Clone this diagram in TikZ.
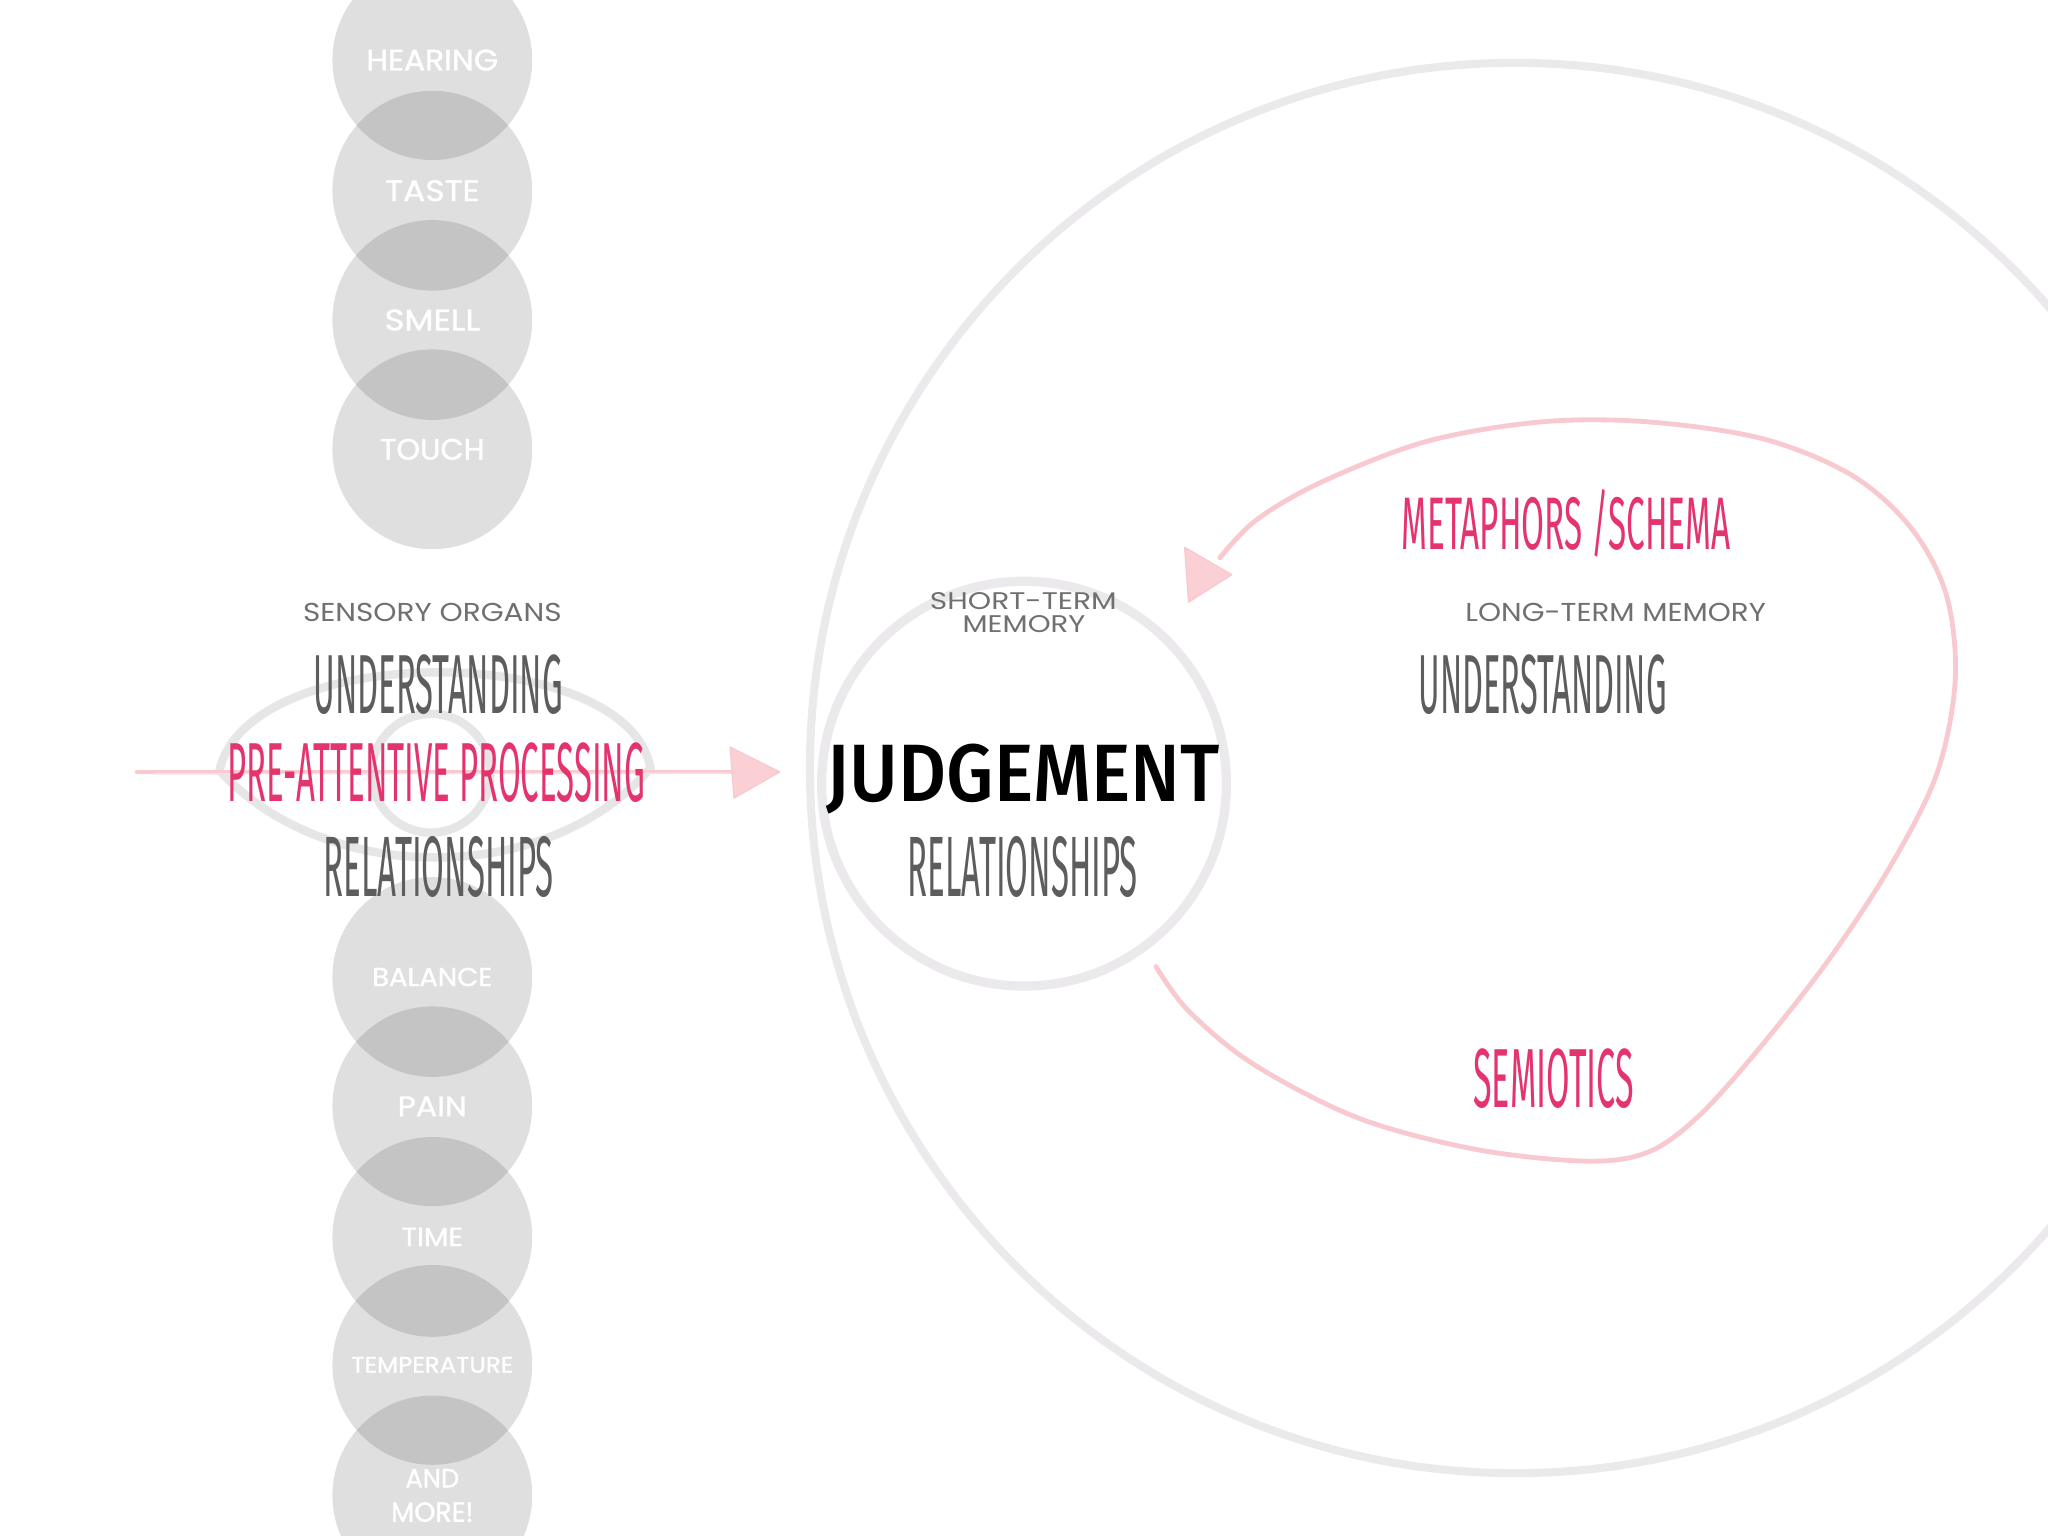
\documentclass[tikz,border=0pt]{standalone}
\usepackage{fontspec}
\usepackage{graphicx}
\newfontfamily\condf{Fira Sans}
\newfontfamily\judgf{Fira Sans}[UprightFont={* Medium}]
\newfontfamily\popf{Poppins}
\newfontfamily\popbf{Poppins}[FakeBold=1.2]
\newdimen\upx \upx=0.02cm
\newcommand\fitwh[3]{\resizebox{#1\upx}{#2\upx}{#3}}
\definecolor{pinktext}{RGB}{228,52,110}
\definecolor{darktext}{RGB}{93,93,93}
\definecolor{labelgray}{RGB}{112,112,112}
\definecolor{ringgray}{RGB}{235,233,236}
\definecolor{eyegray}{RGB}{230,230,230}
\definecolor{pinkline}{RGB}{248,202,208}
\definecolor{pinkhead}{RGB}{250,208,213}
\begin{document}
\begin{tikzpicture}[x=0.02cm,y=-0.02cm,
  sense/.style={circle, minimum size=3.06cm, inner sep=0, fill=black!80, fill opacity=0.155, text opacity=1, text=white, font=\popbf, align=center},
  cond/.style={inner sep=0, anchor=base, font=\condf},
  lbl/.style={inner sep=0, anchor=base, text=labelgray, font=\popf},
  ring/.style={draw=ringgray, line width=3.5pt},
  eyeline/.style={draw=eyegray, line width=3.7pt},
  pinkstroke/.style={draw=pinkline, line width=2.1pt, line cap=round, line join=round},
  brush/.style={draw=pinkline!60!white, line width=0.6pt, line cap=round},
  head/.style={fill=pinkhead, draw=pinkline, line width=0.6pt, line join=round}]
\useasboundingbox (0,0) rectangle (1568,1176);
\fill[white] (0,0) rectangle (1568,1176);

% memory rings
\node[circle, ring, minimum size=21.6cm, inner sep=0] (ltm) at (1160,588) {};
\node[circle, ring, minimum size=6.2cm, inner sep=0, line width=4pt] (stm) at (784,600) {};

% eye
\coordinate (eyeL) at (168,590);
\coordinate (eyeR) at (498,588);
\draw[eyeline] (eyeL) .. controls (190,490) and (480,490) .. (eyeR) .. controls (420,679) and (250,679) .. (eyeL);
\node[circle, draw=eyegray, line width=3.7pt, minimum size=1.82cm, inner sep=0] (iris) at (330,592) {};

% sensory circles
\node[sense] (hearing) at (331,46) {\fitwh{101}{16}{HEARING}};
\node[sense] (taste) at (331,146) {\fitwh{72}{16}{TASTE}};
\node[sense] (smell) at (331,245) {\fitwh{73}{16}{SMELL}};
\node[sense] (touch) at (331,344) {\fitwh{80}{16}{TOUCH}};
\node[sense] (balance) at (331,748) {\fitwh{92}{14}{BALANCE}};
\node[sense] (pain) at (331,847) {\fitwh{53}{15}{PAIN}};
\node[sense] (time) at (331,947) {\fitwh{47}{14}{TIME}};
\node[sense] (temp) at (331,1045) {\fitwh{124}{12}{TEMPERATURE}};
\node[sense] (more) at (331,1145) {\fitwh{41}{14}{AND}\\[3pt]\fitwh{63}{15}{MORE!}};

% horizontal arrow
\coordinate (hstart) at (105,591);
\coordinate (hend) at (566,591);
\draw[pinkstroke] (hstart) -- (hend);
\draw[brush] (118,592.5) -- (560,592);
\filldraw[head] (559,572) -- (597,591) -- (562,611) -- cycle;

% loop arrow
\coordinate (lstart) at (885,740);
\coordinate (lend) at (934,427);
\draw[pinkstroke] plot[smooth, tension=0.55] coordinates {(lstart) (910,774) (960,815) (1040,856) (1130,880) (1215,889) (1262,882) (1300,855) (1345,805) (1400,735) (1448,662) (1483,592) (1497,520) (1490,455) (1463,404) (1418,364) (1350,336) (1262,323) (1180,323) (1092,338) (1012,369) (962,398) (lend)};
\filldraw[head] (907,419) -- (943,440) -- (910,461) -- cycle;

% left texts
\node[lbl] (sensory) at (331,476) {\fitwh{198}{14}{SENSORY ORGANS}};
\node[cond, text=darktext] (undL) at (335.5,546) {\fitwh{191}{45}{UNDERSTANDING}};
\node[cond, text=pinktext] (pre) at (334,614) {\fitwh{320}{45}{PRE-ATTENTIVE PROCESSING}};
\node[cond, text=darktext] (relL) at (336,686) {\fitwh{176}{46}{RELATIONSHIPS}};

% centre texts
\node[lbl] (stmA) at (783.5,467) {\fitwh{143}{13}{SHORT-TERM}};
\node[lbl] (stmB) at (784,484) {\fitwh{94}{13}{MEMORY}};
\node[cond, text=black, font=\judgf] (judg) at (783.5,614) {\fitwh{301}{44}{JUDGEMENT}};
\node[cond, text=darktext] (relC) at (783,686) {\fitwh{176}{46}{RELATIONSHIPS}};

% right texts
\node[cond, text=pinktext] (meta) at (1199,421) {\fitwh{252}{46}{METAPHORS /SCHEMA}};
\node[lbl] (ltmlbl) at (1237,476) {\fitwh{230}{14}{LONG-TERM MEMORY}};
\node[cond, text=darktext] (undR) at (1181,546) {\fitwh{190}{45}{UNDERSTANDING}};
\node[cond, text=pinktext] (semi) at (1189.5,848) {\fitwh{123}{45}{SEMIOTICS}};
\end{tikzpicture}
\end{document}
